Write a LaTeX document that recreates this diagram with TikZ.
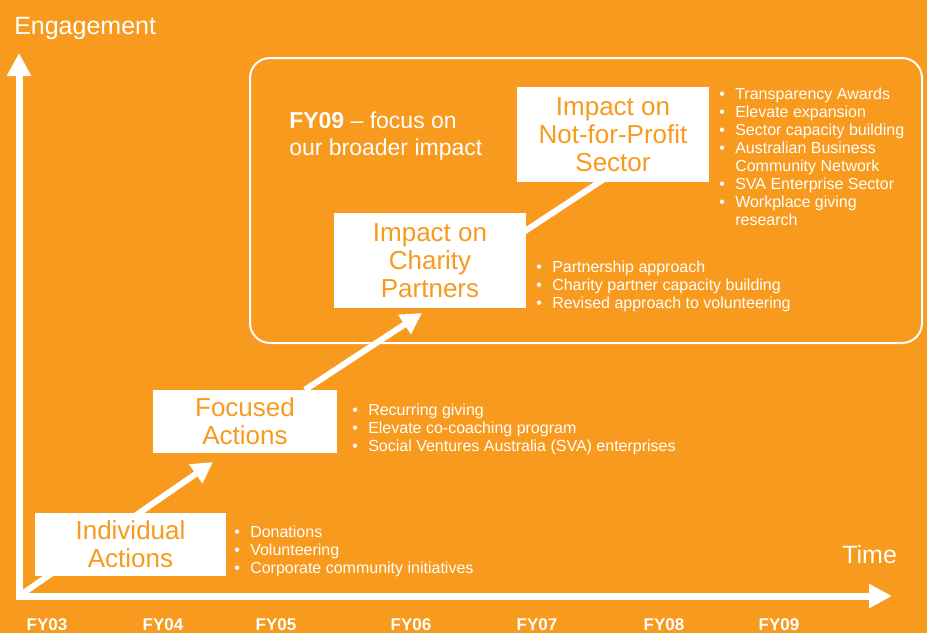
\documentclass[tikz,border=0pt]{standalone}
\usepackage{fontspec}
\setmainfont{Liberation Sans}
\usetikzlibrary{arrows.meta,backgrounds}

\definecolor{sorange}{RGB}{248,154,30}

\begin{document}
\begin{tikzpicture}[x=0.75pt,y=-0.75pt]
		\tikzstyle{every node}=[inner sep=0pt]
		\tikzstyle{box}=[fill=white, text=sorange, align=center, font=\fontsize{19.5}{21}\selectfont]
		\tikzstyle{item}=[text=white, anchor=base west, font=\fontsize{12}{13.5}\selectfont]
		\tikzstyle{year}=[text=white, anchor=base, font=\bfseries\fontsize{12.75}{14}\selectfont]
		\tikzstyle{axlabel}=[text=white, anchor=base west, font=\fontsize{18.75}{20}\selectfont]
		\tikzstyle{axis}=[white, line width=5.25pt, line cap=rect, -{Triangle[length=17.25pt, width=17.25pt]}]
		\tikzstyle{climb}=[white, line width=4.5pt, -{Triangle[length=15.75pt, width=16.5pt]}]
		\useasboundingbox (0,0) rectangle (927,633);
		\begin{pgfonlayer}{background}
			\fill[sorange] (0,0) rectangle (927,633);
		\end{pgfonlayer}

		% Axes
		\coordinate (O) at (19,596);
		\coordinate (ytop) at (19,53);
		\coordinate (xend) at (892,596);
		\draw[axis] (O) -- (ytop);
		\draw[axis] (O) -- (xend);
		\node[axlabel] (eng) at (14,34) {Engagement};
		\node[axlabel] (time) at (842,563) {Time};
		\foreach \x/\fy in {47/FY03, 163/FY04, 276/FY05, 411/FY06, 537/FY07, 664/FY08, 779/FY09}
			\node[year] (\fy) at (\x,630) {\fy};

		% FY09 frame
		\draw[white, line width=1.5pt, rounded corners=15pt] (250,58) rectangle (922,343);
		\node[text=white, anchor=north west, align=left, font=\fontsize{17.25}{20.25}\selectfont] (focus) at (289,112)
			{\textbf{FY09} -- focus on\\our broader impact};

		% Steps
		\node[box, minimum width=143.25pt, minimum height=47.25pt] (ind) at (130.5,544.5) {Individual\\Actions};
		\node[box, minimum width=138pt, minimum height=47.25pt] (foc) at (245,421.5) {Focused\\Actions};
		\node[box, minimum width=144pt, minimum height=71.25pt] (cha) at (430,260.5) {Impact on\\Charity\\Partners};
		\node[box, minimum width=144pt, minimum height=71.25pt] (nfp) at (613,134.5) {Impact on\\Not-for-Profit\\Sector};

		% Bullets
		\foreach \t [count=\i] in {Donations, Volunteering, Corporate community initiatives}
			\node[item] (ind-\i) at (234,519+18*\i) {\makebox[12pt][l]{\textbullet}\t};
		\foreach \t [count=\i] in {Recurring giving, Elevate co-coaching program, Social Ventures Australia (SVA) enterprises}
			\node[item] (foc-\i) at (352,397+18*\i) {\makebox[12pt][l]{\textbullet}\t};
		\foreach \t [count=\i] in {Partnership approach, Charity partner capacity building, Revised approach to volunteering}
			\node[item] (cha-\i) at (536,254+18*\i) {\makebox[12pt][l]{\textbullet}\t};
		\foreach \b/\t [count=\i] in {\textbullet/Transparency Awards, \textbullet/Elevate expansion,
				\textbullet/Sector capacity building, \textbullet/Australian Business, {}/Community Network,
				\textbullet/SVA Enterprise Sector, \textbullet/Workplace giving, {}/research}
			\node[item] (nfp-\i) at (719,81+18*\i) {\makebox[12pt][l]{\b}\t};

		% Arrows behind the boxes
		\coordinate (t1) at (213,462);
		\coordinate (t2) at (422,313);
		\begin{pgfonlayer}{background}
			\draw[climb] (O) -- (t1);
			\draw[climb] ([xshift=45pt]foc.north) -- (t2);
			\draw[climb] ([xshift=-34.5pt]cha.east) -- ([xshift=20pt,yshift=20pt]nfp.south);
		\end{pgfonlayer}
	\end{tikzpicture}
\end{document}
